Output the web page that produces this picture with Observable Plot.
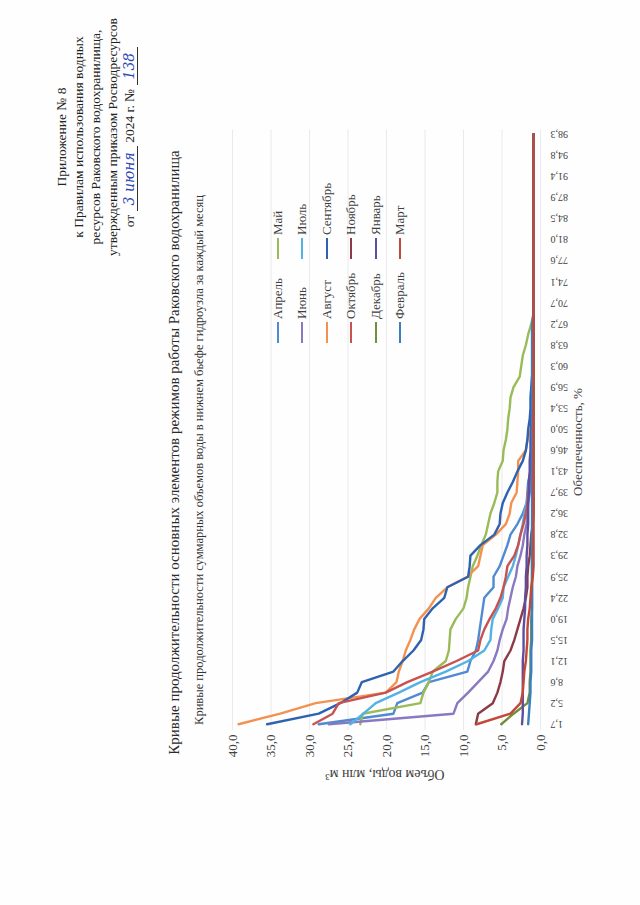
<!DOCTYPE html>
<html>
<head>
<meta charset="utf-8">
<script src="https://cdn.jsdelivr.net/npm/d3@7"></script>
<script src="https://cdn.jsdelivr.net/npm/@observablehq/plot@0.6"></script>
<style>
  html, body { margin: 0; padding: 0; background: #fefefe; }
  body { width: 640px; height: 905px; overflow: hidden; position: relative; font-family: "Liberation Serif", "DejaVu Serif", serif; color: #333; }
  #page { position: absolute; left: 0; top: 0; width: 905px; height: 640px; transform-origin: 0 0; transform: translate(0px, 905px) rotate(-90deg); }
  .abs { position: absolute; white-space: nowrap; }
  #header { left: 628px; width: 280px; top: 53px; text-align: center; font-size: 13.5px; line-height: 17px; color: #222; }
  #header u { text-decoration: none; border-bottom: 1px solid #333; padding: 0 6px; }
  .hand { font-family: "DejaVu Serif", serif; font-style: italic; color: #2c47b8; font-size: 14px; }
  #title { left: 0; width: 905px; top: 166px; text-align: center; font-size: 15px; color: #2a2a2a; }
  #subtitle { left: 0; width: 890px; top: 192px; text-align: center; font-size: 12.5px; color: #333; }
  #chart { left: 100px; top: 220px; width: 680px; }
  #chart svg { display: block; max-width: none; }
  #chart svg g[aria-label^="x-axis"] text { font-size: 10px; }
  #chart svg g[aria-label^="y-axis"] text { font-size: 13px; }
  #ytitle { left: 131px; top: 385px; transform: translate(-50%, -50%) rotate(-90deg); font-size: 14px; color: #404040; }
  #xtitle { left: 463px; top: 578px; transform: translate(-50%, -50%); font-size: 13px; color: #404040; }
  .leg { position: absolute; height: 16px; font-size: 13px; color: #404040; display: flex; align-items: center; }
  .leg span.sw { display: inline-block; width: 21px; height: 2.5px; margin-right: 3px; }
</style>
</head>
<body>
<div id="page">
  <div id="header" class="abs">
    Приложение № 8<br>
    к Правилам использования водных<br>
    ресурсов Раковского водохранилища,<br>
    утвержденным приказом Росводресурсов<br>
    от <u><span class="hand">3 июня</span></u> 2024 г. № <u><span class="hand">138</span></u>
  </div>
  <div id="title" class="abs">Кривые продолжительности основных элементов режимов работы Раковского водохранилища</div>
  <div id="subtitle" class="abs">Кривые продолжительности суммарных объемов воды в нижнем бьефе гидроузла за каждый месяц</div>
  <div id="chart" class="abs"></div>
  <div id="ytitle" class="abs">Объем воды, млн м³</div>
  <div id="xtitle" class="abs">Обеспеченность, %</div>
  <div id="legend"></div>
</div>
<script>
// Обеспеченность, % (57 points)
const categories = [1.7, 3.4, 5.2, 6.9, 8.6, 10.3, 12.1, 13.8, 15.5, 17.2, 19.0, 20.7, 22.4, 24.1, 25.9, 27.6, 29.3, 31.0, 32.8, 34.5, 36.2, 37.9, 39.7, 41.4, 43.1, 44.8, 46.6, 48.3, 50.0, 51.7, 53.4, 55.2, 56.9, 58.6, 60.3, 62.1, 63.8, 65.5, 67.2, 69.0, 70.7, 72.4, 74.1, 75.9, 77.6, 79.3, 81.0, 82.8, 84.5, 86.2, 87.9, 89.7, 91.4, 93.1, 94.8, 96.6, 98.3];
const xTickLabels = [1.7, 5.2, 8.6, 12.1, 15.5, 19.0, 22.4, 25.9, 29.3, 32.8, 36.2, 39.7, 43.1, 46.6, 50.0, 53.4, 56.9, 60.3, 63.8, 67.2, 70.7, 74.1, 77.6, 81.0, 84.5, 87.9, 91.4, 94.8, 98.3];
const yTicks = [0, 5, 10, 15, 20, 25, 30, 35, 40];

const months = ["Апрель", "Май", "Июнь", "Июль", "Август", "Сентябрь", "Октябрь", "Ноябрь", "Декабрь", "Январь", "Февраль", "Март"];
const colors = ["#4f8ad2", "#9bbb59", "#8a78c0", "#52b2e6", "#f39250", "#2e62b0", "#c8524f", "#8c3a48", "#6f8f3c", "#5e4f9e", "#3a7fc0", "#c2483a"];

const april = [28.8, 19.1, 18.6, 15.3, 14.5, 9.5, 9.1, 8.4, 8.1, 7.9, 7.7, 7.5, 7.3, 6.1, 6.1, 5.3, 4.8, 4.3, 3.9, 3.0, 2.3, 1.8, 1.7, 1.6, 1.3, 1.3, 1.2, 1.0,
  0.9, 0.9, 0.9, 0.9, 0.9, 0.9, 0.9, 0.9, 0.9, 0.9, 0.9, 0.9, 0.9, 0.9, 0.9, 0.9, 0.9, 0.9, 0.9, 0.9, 0.9, 0.9, 0.9, 0.9, 0.9, 0.9, 0.9, 0.9, 0.9];
const may = [23.4, 23.1, 15.6, 15.2, 14.5, 14.0, 12.3, 11.9, 11.8, 11.7, 11.0, 10.0, 9.6, 9.4, 9.1, 8.8, 8.2, 7.7, 7.1, 6.8, 6.5, 6.0, 5.6, 5.6, 5.5, 4.9, 4.8, 4.5, 4.3, 4.2, 4.0, 3.9, 3.5, 2.7, 2.5, 2.3, 1.9, 1.6, 1.2,
  0.9, 0.9, 0.9, 0.9, 0.9, 0.9, 0.9, 0.9, 0.9, 0.9, 0.9, 0.9, 0.9, 0.9, 0.9, 0.9, 0.9, 0.9];
const june = [27.5, 11.3, 10.8, 9.4, 8.1, 6.8, 6.1, 5.6, 5.3, 4.9, 4.4, 4.2, 3.9, 3.6, 3.2, 3.0, 2.6, 2.3, 2.1, 1.8, 1.7, 1.6, 1.4, 1.3, 1.2, 1.0,
  0.9, 0.9, 0.9, 0.9, 0.9, 0.9, 0.9, 0.9, 0.9, 0.9, 0.9, 0.9, 0.9, 0.9, 0.9, 0.9, 0.9, 0.9, 0.9, 0.9, 0.9, 0.9, 0.9, 0.9, 0.9, 0.9, 0.9, 0.9, 0.9, 0.9, 0.9];
const july = [24.7, 23.0, 21.4, 18.4, 15.6, 12.3, 9.4, 7.3, 6.5, 6.4, 6.2, 5.5, 4.9, 4.8, 4.2, 3.6, 3.2, 2.9, 2.6, 2.3, 2.1, 1.8, 1.6, 1.4, 1.3, 1.2, 1.0,
  0.9, 0.9, 0.9, 0.9, 0.9, 0.9, 0.9, 0.9, 0.9, 0.9, 0.9, 0.9, 0.9, 0.9, 0.9, 0.9, 0.9, 0.9, 0.9, 0.9, 0.9, 0.9, 0.9, 0.9, 0.9, 0.9, 0.9, 0.9, 0.9, 0.9];
const august = [39.2, 33.8, 29.2, 20.1, 18.7, 18.4, 17.9, 17.5, 16.9, 16.4, 15.7, 14.5, 13.6, 12.1, 9.5, 8.1, 7.8, 7.5, 5.8, 4.5, 4.0, 3.8, 3.1, 3.0, 2.9, 2.9, 1.9, 1.7, 1.3, 1.2, 1.0,
  0.9, 0.9, 0.9, 0.9, 0.9, 0.9, 0.9, 0.9, 0.9, 0.9, 0.9, 0.9, 0.9, 0.9, 0.9, 0.9, 0.9, 0.9, 0.9, 0.9, 0.9, 0.9, 0.9, 0.9, 0.9, 0.9];
const september = [35.5, 28.8, 26.0, 23.8, 23.2, 19.1, 17.9, 16.5, 15.5, 15.2, 15.1, 14.0, 12.5, 12.1, 9.4, 9.2, 9.1, 7.8, 6.0, 5.3, 5.2, 4.9, 4.3, 3.6, 3.0, 2.3, 1.9, 1.7, 1.6, 1.4, 1.3, 1.3, 1.2, 1.1,
  0.9, 0.9, 0.9, 0.9, 0.9, 0.9, 0.9, 0.9, 0.9, 0.9, 0.9, 0.9, 0.9, 0.9, 0.9, 0.9, 0.9, 0.9, 0.9, 0.9, 0.9, 0.9, 0.9];
const october = [29.5, 27.0, 26.2, 20.1, 17.3, 14.0, 10.9, 8.1, 7.8, 7.3, 6.6, 5.8, 5.2, 4.8, 4.5, 4.3, 3.4, 2.9, 2.6, 2.2, 1.9, 1.7, 1.6, 1.4, 1.3, 1.2, 1.1, 1.0, 1.0,
  0.9, 0.9, 0.9, 0.9, 0.9, 0.9, 0.9, 0.9, 0.9, 0.9, 0.9, 0.9, 0.9, 0.9, 0.9, 0.9, 0.9, 0.9, 0.9, 0.9, 0.9, 0.9, 0.9, 0.9, 0.9, 0.9, 0.9, 0.9];
const november = [8.4, 8.1, 6.2, 5.6, 5.2, 4.9, 4.7, 3.9, 3.4, 3.0, 2.6, 2.2, 1.9, 1.7, 1.7, 1.6, 1.4, 1.3, 1.2, 1.0,
  0.9, 0.9, 0.9, 0.9, 0.9, 0.9, 0.9, 0.9, 0.9, 0.9, 0.9, 0.9, 0.9, 0.9, 0.9, 0.9, 0.9, 0.9, 0.9, 0.9, 0.9, 0.9, 0.9, 0.9, 0.9, 0.9, 0.9, 0.9, 0.9, 0.9, 0.9, 0.9, 0.9, 0.9, 0.9, 0.9, 0.9];
const december = [5.1, 3.5, 1.7, 1.4, 1.4, 1.3, 1.3, 1.3, 1.2, 1.2, 1.2, 1.1, 1.1, 1.1, 1.1, 1.1, 1.1, 1.1, 1.1, 1.0, 1.0, 1.0,
  0.9, 0.9, 0.9, 0.9, 0.9, 0.9, 0.9, 0.9, 0.9, 0.9, 0.9, 0.9, 0.9, 0.9, 0.9, 0.9, 0.9, 0.9, 0.9, 0.9, 0.9, 0.9, 0.9, 0.9, 0.9, 0.9, 0.9, 0.9, 0.9, 0.9, 0.9, 0.9, 0.9, 0.9, 0.9];
const january = [2.4, 2.3, 2.3, 2.3, 2.3, 2.3, 2.3, 2.2, 2.2, 2.2, 2.1, 2.0, 2.0, 1.9, 1.9, 1.8, 1.8, 1.7, 1.7, 1.6, 1.6, 1.6, 1.5, 1.5, 1.4, 1.4, 1.3, 1.3, 1.2, 1.2, 1.1, 1.1, 1.0, 1.0,
  0.9, 0.9, 0.9, 0.9, 0.9, 0.9, 0.9, 0.9, 0.9, 0.9, 0.9, 0.9, 0.9, 0.9, 0.9, 0.9, 0.9, 0.9, 0.9, 0.9, 0.9, 0.9, 0.9];
const february = [1.6, 1.5, 1.4, 1.3, 1.3, 1.2, 1.2, 1.2, 1.1, 1.1, 1.1, 1.1, 1.1, 1.1, 1.1, 1.1, 1.1, 1.1, 1.1, 1.1, 1.1, 1.1, 1.1, 1.1, 1.1, 1.1, 1.1, 1.1, 1.1, 1.1, 1.1, 1.1, 1.1, 1.1, 1.1, 1.1, 1.1, 1.1, 1.1,
  0.9, 0.9, 0.9, 0.9, 0.9, 0.9, 0.9, 0.9, 0.9, 0.9, 0.9, 0.9, 0.9, 0.9, 0.9, 0.9, 0.9, 0.9];
const march = [8.3, 3.9, 2.6, 2.3, 2.2, 2.1, 1.9, 1.8, 1.7, 1.7, 1.6, 1.4, 1.3, 1.2, 1.0,
  0.9, 0.9, 0.9, 0.9, 0.9, 0.9, 0.9, 0.9, 0.9, 0.9, 0.9, 0.9, 0.9, 0.9, 0.9, 0.9, 0.9, 0.9, 0.9, 0.9, 0.9, 0.9, 0.9, 0.9, 0.9, 0.9, 0.9, 0.9, 0.9, 0.9, 0.9, 0.9, 0.9, 0.9, 0.9, 0.9, 0.9, 0.9, 0.9, 0.9, 0.9, 0.9];

const seriesValues = [april, may, june, july, august, september, october, november, december, january, february, march];

const comma = d => d.toFixed(1).replace(".", ",");

const lineMarks = seriesValues.map((vals, k) =>
  Plot.line(vals.map((v, i) => ({p: categories[i], v})), {
    x: "p", y: "v", stroke: colors[k], strokeWidth: 2.4, strokeLinejoin: "round", strokeLinecap: "round"
  })
);

const chart = Plot.plot({
  width: 680,
  height: 360,
  marginLeft: 75,
  marginRight: 4.5,
  marginTop: 12,
  marginBottom: 40,
  style: {fontFamily: "Liberation Serif, serif", fontSize: "12.5px", color: "#404040", background: "transparent", overflow: "visible"},
  x: {type: "point", domain: categories, padding: 0.5, round: false, ticks: xTickLabels, tickFormat: comma, tickRotate: -90, tickSize: 0, tickPadding: 10, label: null},
  y: {domain: [0, 40], ticks: yTicks, tickFormat: comma, tickSize: 0, tickPadding: 5, label: null},
  marks: [
    Plot.ruleY(yTicks, {stroke: "#e4e4e4", strokeWidth: 0.8}),
    ...lineMarks
  ]
});
document.getElementById("chart").appendChild(chart);

// legend: 2 columns x 6 rows (row-major order)
const legend = document.getElementById("legend");
const rowY = [278, 302, 327, 351, 376, 400];
const colX = [562, 646];
months.forEach((m, k) => {
  const row = Math.floor(k / 2), col = k % 2;
  const el = document.createElement("div");
  el.className = "leg";
  el.style.left = colX[col] + "px";
  el.style.top = (rowY[row] - 8) + "px";
  el.innerHTML = `<span class="sw" style="background:${colors[k]}"></span>${m}`;
  legend.appendChild(el);
});
</script>
</body>
</html>
